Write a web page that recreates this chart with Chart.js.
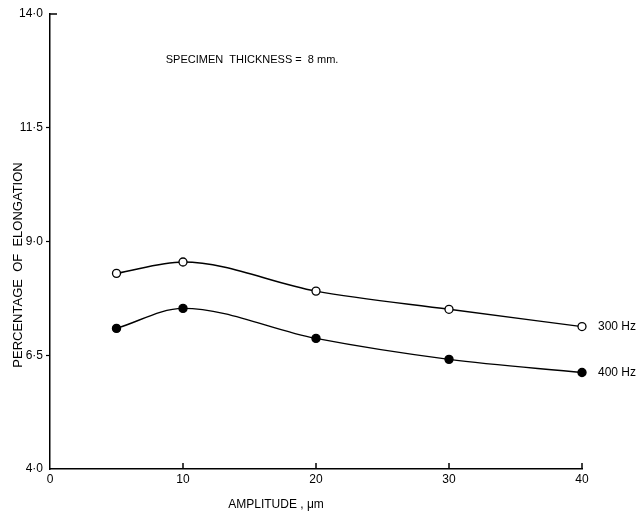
<!DOCTYPE html>
<html>
<head>
<meta charset="utf-8">
<script src="https://cdn.jsdelivr.net/npm/chart.js@4/dist/chart.umd.min.js"></script>
<style>
  body { margin: 0; background: #fff; }
  #wrap { width: 640px; height: 513px; position: relative; }
</style>
</head>
<body>
<div id="wrap"><canvas id="elongChart"></canvas></div>
<script>
// Amplitude vs percentage of elongation, 8 mm specimen
const amplitude = [5, 10, 20, 30, 40];
const elong300 = [8.30, 8.55, 7.91, 7.51, 7.13];
const elong400 = [7.09, 7.53, 6.87, 6.41, 6.12];
const xTickLabels = ['0', '10', '20', '30', '40'];
const yTickLabels = ['4·0', '6·5', '9·0', '11·5', '14·0'];
const seriesNames = ['300 Hz', '400 Hz'];

const FONT = '"Liberation Sans", "DejaVu Sans", sans-serif';

function toPoints(vals) {
    return amplitude.map((a, i) => ({ x: a, y: vals[i] }));
}

// texts + inward ticks drawn on top of the chart
const extras = {
    id: 'extras',
    afterDraw(chart) {
        const c = chart.ctx;
        const xs = chart.scales.x, ys = chart.scales.y;
        const area = chart.chartArea;
        c.save();
        c.strokeStyle = '#000';
        c.lineWidth = 1.5;
        // x ticks pointing up into the plot
        [10, 20, 30, 40].forEach(v => {
            const px = xs.getPixelForValue(v);
            c.beginPath();
            c.moveTo(px, area.bottom);
            c.lineTo(px, area.bottom - 6);
            c.stroke();
        });
        // small corner tick at the top of the y axis
        c.beginPath();
        c.moveTo(area.left, area.top);
        c.lineTo(area.left + 7, area.top);
        c.stroke();

        c.fillStyle = '#000';
        c.textBaseline = 'middle';
        c.font = '11px ' + FONT;
        c.textAlign = 'left';
        c.fillText('SPECIMEN  THICKNESS =  8 mm.', xs.getPixelForValue(8.7), ys.getPixelForValue(13.0));
        c.font = '12px ' + FONT;
        c.fillText(seriesNames[0], xs.getPixelForValue(41.2), ys.getPixelForValue(elong300[4]));
        c.fillText(seriesNames[1], xs.getPixelForValue(41.2), ys.getPixelForValue(elong400[4]));

        c.textAlign = 'center';
        c.fillText('AMPLITUDE , μm', 276, 505);

        c.font = '13px ' + FONT;
        c.translate(18, 265);
        c.rotate(-Math.PI / 2);
        c.fillText('PERCENTAGE  OF  ELONGATION', 0, 0);
        c.restore();
    }
};

const ctx = document.getElementById('elongChart').getContext('2d');
const elongChart = new Chart(ctx, {
    type: 'line',
    data: {
        datasets: [{
            label: seriesNames[0],
            data: toPoints(elong300),
            borderColor: '#000',
            borderWidth: 1.4,
            pointBackgroundColor: '#fff',
            pointBorderColor: '#000',
            pointBorderWidth: 1.3,
            pointRadius: 4,
            cubicInterpolationMode: 'monotone',
            clip: false,
            fill: false
        }, {
            label: seriesNames[1],
            data: toPoints(elong400),
            borderColor: '#000',
            borderWidth: 1.4,
            pointBackgroundColor: '#000',
            pointBorderColor: '#000',
            pointRadius: 4,
            cubicInterpolationMode: 'monotone',
            clip: false,
            fill: false
        }]
    },
    options: {
        responsive: true,
        maintainAspectRatio: false,
        animation: false,
        layout: {
            padding: { top: 14, right: 58, left: 0, bottom: 0 }
        },
        scales: {
            x: {
                type: 'linear',
                min: 0,
                max: 40,
                border: { display: true, color: '#000', width: 1.5 },
                grid: { display: true, drawOnChartArea: false, drawTicks: false },
                ticks: {
                    stepSize: 10,
                    padding: 3,
                    color: '#000',
                    font: { family: FONT, size: 12 },
                    callback: (v, i) => xTickLabels[i]
                },
                afterFit(scale) { scale.height = 44; }
            },
            y: {
                min: 4,
                max: 14,
                border: { display: true, color: '#000', width: 1.5 },
                grid: {
                    drawOnChartArea: false,
                    tickLength: 4,
                    tickWidth: 1.2,
                    tickColor: c => (c.tick && (c.tick.value === 14 || c.tick.value === 4)) ? 'rgba(0,0,0,0)' : '#000'
                },
                ticks: {
                    stepSize: 2.5,
                    padding: 3,
                    color: '#000',
                    font: { family: FONT, size: 12 },
                    callback: (v, i) => yTickLabels[i]
                },
                afterFit(scale) { scale.width = 50; }
            }
        },
        plugins: {
            legend: { display: false },
            tooltip: { enabled: false }
        }
    },
    plugins: [extras]
});
</script>
</body>
</html>
